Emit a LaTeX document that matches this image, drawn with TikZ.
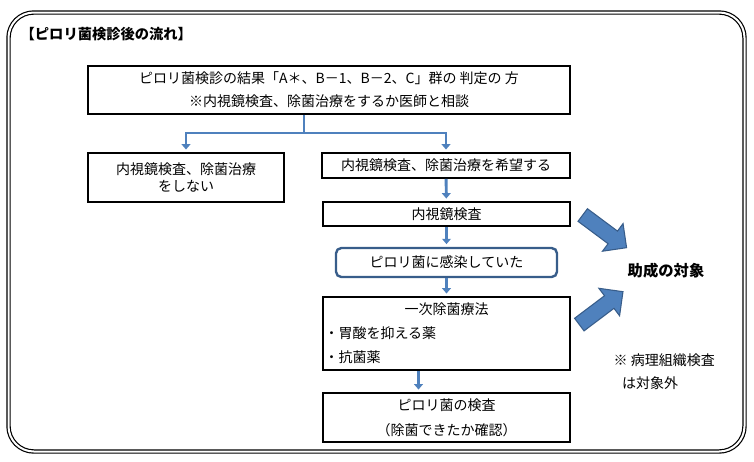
\documentclass[tikz,border=0pt]{standalone}
\usepackage{fontspec}
\setmainfont{Noto Sans CJK JP}
\usetikzlibrary{arrows.meta,shapes.arrows}
\definecolor{linkblue}{HTML}{4F81BD}
\definecolor{edgeblue}{HTML}{385D8A}
\tikzset{
  flowbox/.style={
    draw=black,
    line width=1.2pt,
    align=center,
    font=\fontsize{10.5pt}{17pt}\selectfont,
    inner sep=1pt
  },
  softbox/.style={
    draw=edgeblue,
    line width=1.8pt,
    rounded corners=4pt,
    align=center,
    font=\fontsize{10.5pt}{17pt}\selectfont,
    inner sep=1pt
  },
  flowline/.style={draw=linkblue, line width=2.2pt},
  flowarrow/.style={flowline, -{Triangle[length=4pt,width=6.5pt]}, shorten >=2pt},
  bigarrow/.style={
    single arrow,
    draw=edgeblue,
    fill=linkblue,
    line width=0.8pt,
    inner xsep=0pt,
    inner ysep=5.5pt,
    minimum height=41pt,
    single arrow head extend=7pt
  }
}
\begin{document}
\begin{tikzpicture}[x=0.75pt,y=-0.75pt]
  \useasboundingbox (0,0) rectangle (754,461);
  \draw[double, line width=0.9pt, double distance=1.5pt, rounded corners=19pt]
    (8.5,12.5) rectangle (744.5,451.5);

  \node[anchor=west, font=\bfseries\fontsize{10.7pt}{12pt}\selectfont] (title) at (16,34) {【ピロリ菌検診後の流れ】};

  \node[flowbox, minimum width=361.5pt, minimum height=36pt] (result) at (329,90)
    {ピロリ菌検診の結果「A＊、B－1、B－2、C」群の 判定の 方\\※内視鏡検査、除菌治療をするか医師と相談};
  \node[flowbox, minimum width=147pt, minimum height=36.75pt, font=\fontsize{10.5pt}{12.75pt}\selectfont] (stop) at (186,177.5)
    {内視鏡検査、除菌治療\\をしない};
  \node[flowbox, minimum width=186pt, minimum height=18.75pt] (hope) at (446,165.5)
    {内視鏡検査、除菌治療を希望する};
  \node[flowbox, minimum width=185.25pt, minimum height=18pt] (scope) at (446.5,214)
    {内視鏡検査};
  \node[softbox, minimum width=165.75pt, minimum height=21.75pt] (infect) at (446.5,262.5)
    {ピロリ菌に感染していた};
  \node[flowbox, minimum width=185.25pt, minimum height=54.75pt, text width=183pt, align=left, font=\fontsize{10.5pt}{18pt}\selectfont] (therapy) at (446.5,333.5)
    {\makebox[\hsize]{一次除菌療法}\\・胃酸を抑える薬\\・抗菌薬};
  \node[flowbox, minimum width=185.25pt, minimum height=36.75pt, font=\fontsize{10.5pt}{18.75pt}\selectfont] (check) at (446.5,417.5)
    {ピロリ菌の検査\\（除菌できたか確認）};

  \node[font=\bfseries\fontsize{11.5pt}{14pt}\selectfont] (goal) at (666,271) {助成の対象};
  \node[anchor=west, align=left, font=\fontsize{10.5pt}{17pt}\selectfont] (note) at (609,372)
    {※ 病理組織検査\\\hspace{0.6em}は対象外};

  \node[bigarrow, rotate=-36.7] (upgo) at (601.5,229) {};
  \node[bigarrow, rotate=37] (downgo) at (598,310.5) {};

  % branch below the first box
  \coordinate (fork) at (304,133);
  \draw[flowline] (result.south -| fork) -- (fork);
  \draw[flowarrow] (fork) -| (stop.north);
  \draw[flowarrow] (fork) -| (hope.north);

  \draw[flowarrow] (hope) -- (scope);
  \draw[flowarrow] (scope) -- (infect);
  \draw[flowarrow] (infect) -- (therapy);
  \draw[flowarrow] ([xshift=-21pt]therapy.south) -- ([xshift=-21pt]check.north);
\end{tikzpicture}
\end{document}
